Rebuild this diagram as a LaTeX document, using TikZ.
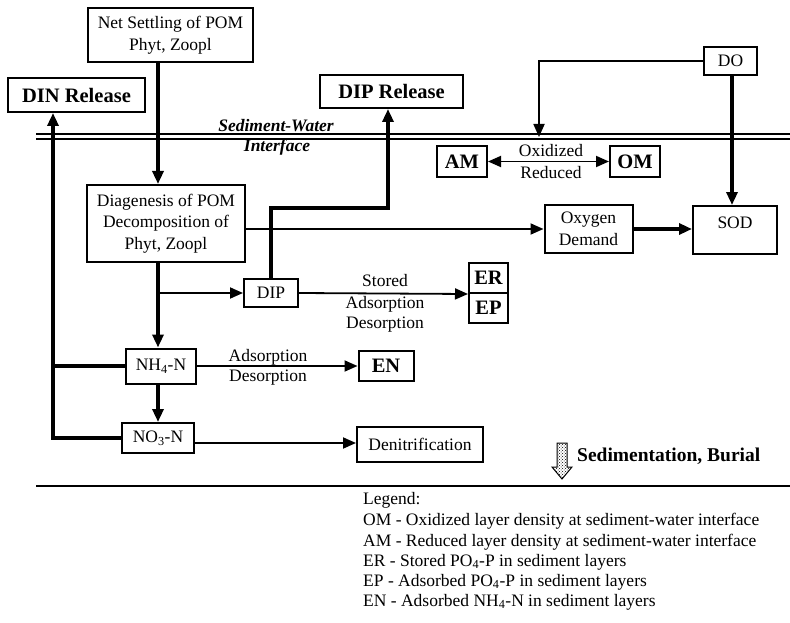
\documentclass[tikz,border=0pt]{standalone}
\usepackage{fontspec}
\setmainfont{Liberation Serif}
\usetikzlibrary{arrows.meta,patterns,calc}
\begin{document}
\begin{tikzpicture}[x=1pt,y=-1pt,
  box/.style={draw,line width=2pt,rectangle,inner sep=1pt,align=center,font=\fontsize{17.5}{21.5}\selectfont},
  bbox/.style={box,font=\fontsize{20.5}{22}\selectfont\bfseries},
  lbl/.style={font=\fontsize{17.5}{20}\selectfont,inner sep=1pt},
  thk/.style={line width=3.2pt},
  thn/.style={line width=1.8pt},
  tip/.style={-{Triangle[length=13pt,width=11pt]}},
  tipb/.style={{Triangle[length=13pt,width=11pt]}-{Triangle[length=13pt,width=11pt]}}
]
\useasboundingbox (0,0) rectangle (790,623);

% nodes
\node[box,minimum width=165pt,minimum height=54pt] (netset) at (170.5,35) {Net Settling of POM\\Phyt, Zoopl};
\node[bbox,minimum width=137pt,minimum height=34pt] (dinrel) at (76.5,95) {DIN Release};
\node[bbox,minimum width=143pt,minimum height=33pt] (diprel) at (391.5,91.5) {DIP Release};
\node[box,minimum width=53pt,minimum height=28pt] (do) at (730.5,61) {DO};
\node[bbox,minimum width=50pt,minimum height=31pt] (am) at (462,161.5) {AM};
\node[bbox,minimum width=50pt,minimum height=31pt] (om) at (635,161.5) {OM};
\node[box,minimum width=158pt,minimum height=77pt] (diag) at (166,223.5) {Diagenesis of POM\\Decomposition of\\Phyt, Zoopl};
\node[box,minimum width=88pt,minimum height=48pt] (oxy) at (588.5,229) {Oxygen\\Demand};
\node[box,minimum width=84pt,minimum height=48pt,anchor=north,text height=21pt,text depth=24pt] (sod) at (735,205) {SOD};
\node[box,minimum width=54pt,minimum height=28pt] (dip) at (271,293) {DIP};
\node[bbox,minimum width=39pt,minimum height=30pt] (er) at (488.5,278) {ER};
\node[bbox,minimum width=39pt,minimum height=30pt] (ep) at (488.5,308) {EP};
\node[box,minimum width=70pt,minimum height=35pt] (nh4) at (161,366) {NH\textsubscript{4}-N};
\node[bbox,minimum width=55pt,minimum height=30pt] (en) at (386,366) {EN};
\node[box,minimum width=72pt,minimum height=30pt] (no3) at (158,438) {NO\textsubscript{3}-N};
\node[box,minimum width=126pt,minimum height=35pt] (denit) at (420,444.5) {Denitrification};

% helper coordinates
\coordinate (colx) at (158,0);
\coordinate (lx) at (53,0);
\coordinate (dipx) at (388,208);
\coordinate (doint) at (539,137);

% interface lines
\draw[line width=2pt] (36,134) -- (790,134);
\draw[line width=2pt] (36,139) -- (790,139);
\node[lbl,font=\fontsize{17.5}{20}\selectfont\bfseries\itshape] (swi1) at (276,126) {Sediment-Water};
\node[lbl,font=\fontsize{17.5}{20}\selectfont\bfseries\itshape] (swi2) at (277,147) {Interface};

% bottom line
\draw[line width=2.2pt] (36,486) -- (790,486);

% connectors
\draw[thk,tip] (netset.south -| colx) -- (diag.north -| colx);
\draw[thk,tip] (diag.south -| colx) -- (nh4.north -| colx);
\draw[thn,tip] (colx |- dip.west) -- (dip.west);
\draw[thk,tip] (nh4.south -| colx) -- (no3.north -| colx);
\draw[thk,tip] (no3.west) -| (lx |- dinrel.south);
\draw[thk] (nh4.west) -- (nh4.west -| lx);
\draw[thk,tip] (dip.north) |- (dipx) -- (dipx |- diprel.south);
\draw[thn,tip] (diag.east |- oxy.west) -- (oxy.west);
\draw[thk,tip] (oxy.east) -- (sod.west |- oxy.east);
\draw[thk,tip] (do.south -| 732,0) -- (732,205);
\draw[thn,tip] (do.west) -| (doint);
\draw[thn,tipb] (am.east) -- (om.west);
\draw[thn,tip] (dip.east) -- (er.south west);
\draw[thn,tip] (nh4.east) -- (en.west);
\draw[thn,tip] ($(no3.east)+(0,5)$) -- (denit.west |- 0,443);

% labels on connectors
\node[lbl] (oxl) at (551,151) {Oxidized};
\node[lbl] (rdl) at (551,173) {Reduced};
\node[lbl] (stl) at (385,281) {Stored};
\node[lbl] (adl1) at (385,304) {Adsorption};
\node[lbl] (del1) at (385,325) {Desorption};
\node[lbl] (adl2) at (268,357) {Adsorption};
\node[lbl] (del2) at (268,378) {Desorption};

% sedimentation arrow
\draw[line width=1pt,pattern=crosshatch dots] (557,443) -- (567,443) -- (567,467) -- (572,467) -- (562,479) -- (552,467) -- (557,467) -- cycle;
\node[lbl,anchor=west,font=\fontsize{19.5}{22}\selectfont\bfseries] (sedb) at (576,456) {Sedimentation, Burial};

% legend
\begin{scope}[every node/.style={lbl,anchor=west,font=\fontsize{17.5}{20}\selectfont}]
\node (lg0) at (362,500) {Legend:};
\node (lg1) at (362,521) {OM - Oxidized layer density at sediment-water interface};
\node (lg2) at (362,542) {AM - Reduced layer density at sediment-water interface};
\node (lg3) at (362,562) {ER - Stored PO\textsubscript{4}-P in sediment layers};
\node (lg4) at (362,582) {EP - Adsorbed PO\textsubscript{4}-P in sediment layers};
\node (lg5) at (362,602) {EN - Adsorbed NH\textsubscript{4}-N in sediment layers};
\end{scope}
\end{tikzpicture}
\end{document}
